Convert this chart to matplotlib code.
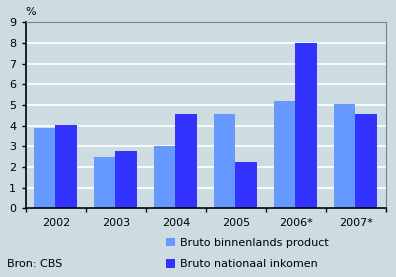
import numpy as np
import matplotlib.pyplot as plt

years = ["2002", "2003", "2004", "2005", "2006*", "2007*"]
bbp = [3.9, 2.5, 3.0, 4.55, 5.2, 5.05]
bni = [4.05, 2.75, 4.55, 2.25, 8.0, 4.55]
labels = ["Bruto binnenlands product", "Bruto nationaal inkomen"]

bg = "#cddce1"
light = "#6699ff"
dark = "#3333ff"

plt.rcParams["font.family"] = "DejaVu Sans"
plt.rcParams["font.size"] = 8

fig = plt.figure(figsize=(3.96, 2.77), dpi=100, facecolor=bg)
W, H = 396, 277
ax = fig.add_axes([26 / W, 1 - 208.3 / H, 360.3 / W, 186 / H])
ax.set_facecolor(bg)

x = np.arange(len(years))
w = 0.36
ax.bar(x - 0.195, bbp, w, color=light, label=labels[0], zorder=2)
ax.bar(x + 0.165, bni, w, color=dark, label=labels[1], zorder=2)

ax.set_xlim(-0.5, len(years) - 0.5)
ax.set_ylim(0, 9)
ax.set_yticks(range(10))
ax.yaxis.grid(True, color="white", linewidth=1.2, zorder=1)
ax.set_xticks(x)
ax.set_xticklabels(years)
ax.set_xticks(np.arange(-0.5, len(years)), minor=True)
ax.tick_params(axis="x", which="major", length=0, pad=7)
ax.tick_params(axis="x", which="minor", length=3, width=1, color="black")
ax.tick_params(axis="y", length=3, width=1, pad=4)

for s in ["top", "right"]:
    ax.spines[s].set_color("#808080")
for s in ["left", "bottom"]:
    ax.spines[s].set_color("black")
    ax.spines[s].set_linewidth(1.2)
for s in ax.spines.values():
    s.set_zorder(5)

fig.text(25 / W, 1 - 12 / H, "%", ha="left", va="center")
fig.text(7 / W, 1 - 264 / H, "Bron: CBS", ha="left", va="center")

handles, _ = ax.get_legend_handles_labels()
fig.legend(handles, labels, loc="upper left", bbox_to_anchor=(162 / W, 1 - 233.5 / H),
           frameon=False, handlelength=0.8, handleheight=0.8, handletextpad=0.4,
           labelspacing=1.0, borderaxespad=0)

fig.savefig("out.png", dpi=100, facecolor=bg)
